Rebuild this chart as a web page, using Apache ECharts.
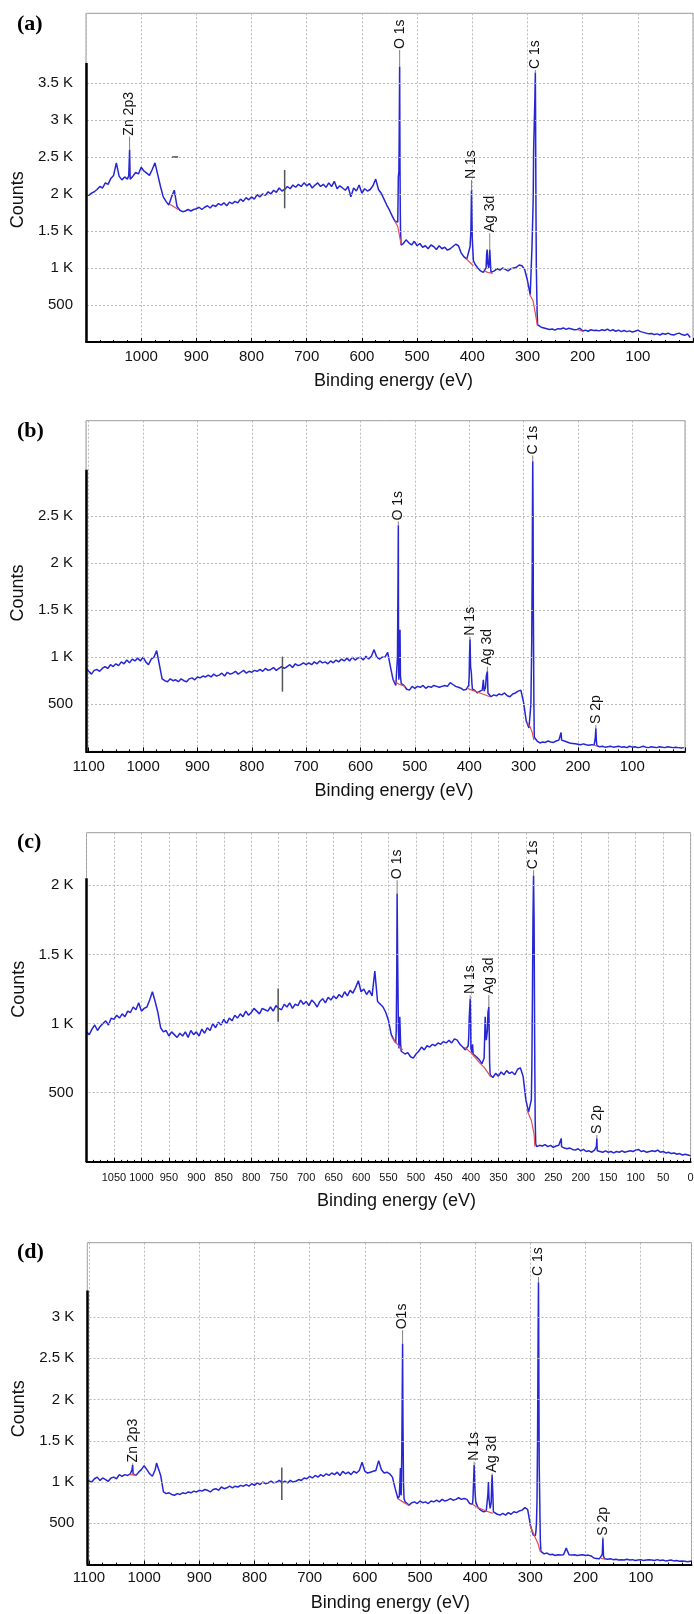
<!DOCTYPE html>
<html><head><meta charset="utf-8">
<script src="https://cdn.jsdelivr.net/npm/echarts@6.0.0/dist/echarts.min.js"></script>
<style>html,body{margin:0;padding:0;background:#fff}#c{width:694px;height:1614px}</style>
</head><body><div id="c"></div>
<script>
// ---------- DATA (energies in eV, counts) ----------
const STEP = 5;
// panel (a): counts sampled every 5 eV from 1100 down to 5
const aStart = 1100;
const aCounts = [
2000,1980,2010,2030,2060,2100,2080,2150,2130,2210,
2250,2420,2240,2190,2230,2200,2200,2240,2290,2270,
2360,2310,2280,2250,2330,2420,2260,2100,1960,1900,
1850,1960,2050,1830,1780,1760,1770,1790,1770,1790,
1800,1820,1790,1820,1840,1810,1850,1830,1870,1850,
1880,1840,1890,1870,1900,1880,1930,1900,1950,1920,
1960,1930,1990,1960,2000,1980,2030,2000,2050,2020,
2080,2040,2060,2100,2070,2120,2090,2130,2100,2150,
2110,2140,2080,2120,2150,2100,2130,2090,2150,2100,
2170,2070,2110,2080,2050,2100,1960,2080,2040,2120,
2010,2070,2040,2060,2110,2200,2060,2010,1930,1850,
1780,1700,1630,1620,1500,1330,1380,1340,1310,1360,
1300,1330,1280,1300,1260,1310,1290,1250,1300,1260,
1280,1240,1260,1290,1320,1300,1200,1150,1120,1260,
1400,1050,1000,960,940,1000,1000,930,960,990,
970,1000,980,960,990,1000,1010,1040,1030,980,
830,640,1800,2500,220,200,190,180,170,175,
160,180,175,190,170,185,175,165,170,185,
150,160,145,165,155,160,150,165,155,175,
150,165,145,160,140,155,140,150,135,145,
160,140,130,120,110,115,100,110,95,115,
105,120,100,95,110,120,100,90,110,60];
const aPeaks = [[1022.5,2250],[1021,2600],[1019.5,2220],
[534,2230],[533,2300],[532.5,2700],[531.6,3720],[531,2400],[530.5,1800],[529,1310],
[404,1290],[402.5,1500],[401.4,2050],[400.5,1600],[398,1100],
[374,1180],[373,1250],[372,1060],[369,1150],[368.3,1250],[367,1050],[366,940],
[293,650],[291.9,1260],[289.5,2000],[288.8,2600],[287.5,3000],[286.5,3300],[285.7,3640],[285.3,3100],[284.5,1700],[283.9,1000],[282.5,400],[281.6,230]];
const aBackground = [[[948,1860],[933,1790]],[[541,1640],[535,1560],[529,1320]],[[412,1130],[405,1080],[398,1030]],[[378,960],[372,940],[363,925]],[[296,640],[290,560],[286,400],[282,225]],[[208,165],[198,140]]];
const aMarks = [[1021,2600,1021,2774,'Zn 2p3'],[531.6,3720,531.6,3945,'O 1s'],[401.4,2050,401.4,2189,'N 1s'],[368.3,1250,368.3,1469,'Ag 3d'],[285.7,3640,285.7,3675,'C 1s'],[740,1806,740,2324,''],[944,2500,933,2500,'']];
const aXTicks = [1000,900,800,700,600,500,400,300,200,100];
const aYTicks = [500,1000,1500,2000,2500,3000,3500];

// panel (b)
const bStart = 1100;
const bCounts = [
850,820,860,870,850,880,900,880,920,900,
930,910,950,930,970,940,980,960,990,960,
1000,950,920,980,1000,1070,920,770,750,740,
770,750,760,740,770,750,740,770,780,760,
790,780,800,790,810,790,820,800,810,830,
800,840,820,830,850,820,840,860,830,850,
840,860,850,870,850,880,860,870,890,860,
880,900,880,900,920,890,930,910,920,940,
920,940,920,950,930,960,940,950,930,960,
940,970,950,980,960,990,960,1000,970,990,
1000,970,1010,980,1010,1080,1000,980,1000,1000,
1050,900,760,700,1000,720,700,660,650,690,
670,690,680,700,670,690,680,700,690,680,
690,700,690,730,710,690,680,670,650,660,
800,720,650,620,640,700,680,600,580,600,
590,610,600,620,590,580,610,620,640,650,
520,320,250,1150,130,110,90,100,95,110,
100,95,110,120,120,110,100,90,85,80,
75,70,80,70,65,70,70,60,50,55,
45,50,55,45,50,55,45,50,40,55,
45,50,40,45,55,45,40,50,45,40,
50,45,40,50,45,40,45,40,35,40];
const bPeaks = [[1105,880],
[533,720],[532,1000],[531,1800],[530.4,2400],[529.5,760],[528.5,750],[527.8,1000],[527.3,1290],[526.5,800],
[401,700],[399.5,1000],[398.5,1190],[397.5,900],[396,830],[394,660],
[376,650],[374,760],[372.5,640],[368.5,800],[366.6,850],[365.5,620],
[293,300],[288,230],[286.5,500],[284,2000],[283.5,2700],[283.1,3080],[282.5,2500],[282,1500],[281,500],[280.3,150],
[231,200],[168,150],[167,245],[166,110]];
const bBackground = [[[539,750],[530,715],[518,690]],[[404,670],[395,650],[380,620],[362,580]],[[294,315],[288,260],[284,200],[281,121]],[[172,70],[164,55]]];
const bMarks = [[530.4,2400,530.4,2440,'O 1s'],[283.1,3080,283.1,3140,'C 1s'],[398.5,1190,398.5,1218,'N 1s'],[366.6,850,366.6,900,'Ag 3d'],[167,245,167,280,'S 2p'],[743.6,634,743.6,1006,'']];
const bXTicks = [1100,1000,900,800,700,600,500,400,300,200,100];
const bYTicks = [500,1000,1500,2000,2500];

// panel (c)
const cStart = 1100;
const cCounts = [
940,920,960,990,950,980,1000,1020,990,1040,
1030,1060,1040,1070,1050,1090,1080,1120,1100,1150,
1090,1110,1120,1170,1230,1160,1080,970,940,950,
910,940,920,900,930,910,940,900,950,920,
940,910,960,930,970,950,1000,970,1010,990,
1030,1000,1040,1020,1060,1040,1070,1050,1090,1060,
1080,1110,1090,1070,1110,1100,1090,1120,1090,1130,
1110,1100,1140,1120,1150,1110,1140,1130,1170,1140,
1160,1130,1170,1150,1120,1160,1180,1150,1190,1170,
1200,1180,1210,1190,1230,1200,1240,1220,1260,1310,
1230,1250,1210,1240,1200,1380,1160,1140,1120,1080,
1020,920,880,1400,900,800,780,790,760,750,
780,800,830,810,840,830,850,840,860,850,
870,860,880,860,890,880,850,830,810,840,
820,770,760,740,710,900,950,630,610,640,
620,650,630,660,640,650,630,670,680,620,
450,360,450,1750,110,120,115,125,110,120,
105,115,120,110,100,95,100,90,85,95,
80,90,75,80,70,85,80,75,70,80,
70,75,65,75,70,80,70,75,80,75,
85,90,75,80,70,75,80,75,85,70,
75,65,70,60,65,55,60,50,55,50,
45];
const cPeaks = [[537,860],[536,950],[534.4,1940],[533.5,1500],[532,950],[531,820],[529.5,1050],[528,850],[527,800],
[404,900],[403,1050],[401.3,1180],[400.5,1000],[398,790],[397,850],[396,780],
[376,750],[374,1050],[373,950],[372,880],[369,1080],[367.4,1120],[366.5,900],[366,720],
[292,350],[289,700],[288,1200],[287,1750],[286,2070],[284,900],[283,300],[282,130],
[235.5,170],[171.5,110],[170.7,170]];
const cBackground = [[[544,900],[534,850],[524,810]],[[412,830],[400,790],[385,720],[375,680],[364,615]],[[298,375],[290,300],[285,200],[283.5,110]]];
const cMarks = [[534.4,1940,534.4,2037,'O 1s'],[285.9,2070,285.9,2109,'C 1s'],[401.3,1180,401.3,1206,'N 1s'],[367.4,1120,367.4,1206,'Ag 3d'],[170.7,170,170.7,194,'S 2p'],[751,1013,751,1254,'']];
const cXTicks = [1050,1000,950,900,850,800,750,700,650,600,550,500,450,400,350,300,250,200,150,100,50,0];
const cYTicks = [500,1000,1500,2000];

// panel (d)
const dStart = 1100;
const dCounts = [
1030,1000,1040,1060,1020,1050,1030,1010,1050,1060,
1040,1090,1070,1090,1080,1100,1100,1080,1120,1150,
1200,1150,1100,1070,1150,1180,1080,880,860,870,
850,840,860,850,870,860,880,870,890,880,
900,890,910,900,880,910,920,900,940,920,
930,950,930,950,940,960,950,970,950,980,
960,990,970,1000,980,990,1010,990,1000,1020,
990,1010,990,1020,1000,1010,1030,1020,1050,1040,
1070,1050,1080,1060,1090,1070,1100,1080,1110,1090,
1120,1080,1130,1100,1120,1090,1130,1110,1140,1240,
1130,1110,1120,1130,1140,1260,1150,1110,1120,1100,
1060,920,800,880,1000,740,720,750,760,740,
770,750,760,740,770,760,780,760,790,770,
780,800,780,790,810,790,800,790,740,730,
850,690,660,640,650,800,1000,620,610,600,
620,600,630,610,640,630,650,660,690,670,
480,360,400,3000,140,130,140,120,125,110,
120,115,120,200,120,115,120,110,115,120,
110,115,105,80,75,70,120,70,65,70,
60,65,55,60,55,65,55,60,50,55,
60,50,55,60,55,50,60,50,55,45,
50,55,45,50,40,45,40,35,40];
const dPeaks = [[1103,1020],[1022,1150],[1020.8,1210],[977.5,1230],
[537.5,830],[535.5,1170],[534,840],[533,1400],[532.3,2000],[531.6,2680],[531,1800],[529,800],[527,760],
[404,800],[403,1000],[401.9,1205],[401,1000],[399,760],[397,740],
[378,660],[377,850],[376,1000],[373,680],[371,750],[369.3,1084],[368,850],[367,640],
[293,340],[291,350],[289,500],[288,760],[287,1500],[286,2800],[285.3,3420],[284.6,2200],[284,1200],[283,760],[282,300],[281,160],
[234.5,220],[169.5,150],[168.6,318],[167.5,100],[8,40]];
const dBackground = [[[1026,1090],[1013,1080]],[[541,800],[531,760],[521,720]],[[405,730],[395,690],[380,650],[368,620]],[[301,480],[292,340],[286,250],[282,156]],[[172,75],[164,65]]];
const dMarks = [[1020.8,1210,1020.8,1226,'Zn 2p3'],[531.6,2680,531.6,2839,'O1s'],[401.9,1205,401.9,1245,'N 1s'],[369.3,1084,369.3,1105,'Ag 3d'],[285.3,3420,285.3,3484,'C 1s'],[168.6,318,168.6,338,'S 2p'],[750.5,782,750.5,1177,'']];
const dXTicks = [1100,1000,900,800,700,600,500,400,300,200,100];
const dYTicks = [500,1000,1500,2000,2500,3000];

// ---------- LAYOUT ----------
const panels = [
 {letter:'(a)', start:aStart, counts:aCounts, peaks:aPeaks, bg:aBackground, marks:aMarks, xTicks:aXTicks, yTicks:aYTicks,
  left:86, top:13.3, width:607, height:328.7, xMin:0, xMax:1100, xInt:100, yMax:4440, axisTop:3770,
  xFont:15, xMargin:7, gapX:30, shiftX:4, gapY:56, shiftY:22, letterY:25},
 {letter:'(b)', start:bStart, counts:bCounts, peaks:bPeaks, bg:bBackground, marks:bMarks, xTicks:bXTicks, yTicks:bYTicks,
  left:86, top:420.7, width:599, height:330.7, xMin:3, xMax:1105, xInt:100, yMax:3510, axisTop:2990,
  xFont:15, xMargin:8, gapX:31, shiftX:8.5, gapY:58.5, shiftY:7, letterY:432.7},
 {letter:'(c)', start:cStart, counts:cCounts, peaks:cPeaks, bg:cBackground, marks:cMarks, xTicks:cXTicks, yTicks:cYTicks,
  left:86.5, top:832.7, width:604.1, height:329.2, xMin:0, xMax:1100, xInt:50, yMax:2380, axisTop:2050,
  xFont:11, xMargin:11, gapX:30, shiftX:8, gapY:51, shiftY:-8, letterY:843},
 {letter:'(d)', start:dStart, counts:dCounts, peaks:dPeaks, bg:dBackground, marks:dMarks, xTicks:dXTicks, yTicks:dYTicks,
  left:87.3, top:1242.7, width:604.2, height:321.9, xMin:8, xMax:1103, xInt:100, yMax:3900, axisTop:3320,
  xFont:15, xMargin:6, gapX:29.5, shiftX:1, gapY:57.5, shiftY:5, letterY:1253}
];

const FONT = 'Liberation Sans';
function buildLine(p) {
  const pts = p.counts.map((c, i) => [p.start - i * STEP, c]).concat(p.peaks);
  pts.sort((u, v) => v[0] - u[0]);
  return pts;
}
function buildBg(p) {
  const out = [];
  p.bg.forEach((seg, k) => { if (k) out.push([seg[0][0] + 0.01, '-']); seg.forEach(pt => out.push(pt)); });
  return out;
}
function fmtY(v) { return v >= 1000 ? (v / 1000) + ' K' : String(v); }

const grid = [], xAxis = [], yAxis = [], series = [], graphic = [];
panels.forEach((p, i) => {
  grid.push({left:p.left, top:p.top, width:p.width, height:p.height, show:true, borderColor:'#9a9a9a', borderWidth:1,
             backgroundColor:'transparent', containLabel:false, outerBoundsMode:'none'});
  xAxis.push({type:'value', gridIndex:i, inverse:true, min:p.xMin, max:p.xMax, minInterval:p.xInt, maxInterval:p.xInt,
    name:'Binding energy (eV)', nameLocation:'middle', nameGap:p.gapX,
    nameTextStyle:{fontFamily:FONT, fontSize:18, color:'#111', padding:[0,0,0,2*p.shiftX]},
    axisLine:{show:true, onZero:false, lineStyle:{color:'#000', width:2}},
    axisTick:{show:true, inside:true, length:4, lineStyle:{color:'#000'}},
    minorTick:{show:true, splitNumber:4, length:2, lineStyle:{color:'#000'}},
    splitLine:{show:true, lineStyle:{color:'#b9b9b9', type:[2,2], width:1}},
    axisLabel:{show:true, fontFamily:FONT, fontSize:p.xFont, color:'#111', margin:p.xMargin,
      showMinLabel:true, showMaxLabel:true,
      formatter: v => (p.xTicks.indexOf(Math.round(v*1000)/1000) >= 0 ? String(v) : '')}
  });
  yAxis.push({type:'value', gridIndex:i, min:0, max:p.yMax, interval:500,
    name:'Counts', nameLocation:'middle', nameGap:p.gapY,
    nameTextStyle:{fontFamily:FONT, fontSize:18, color:'#111',
      padding: p.shiftY >= 0 ? [0, 2*p.shiftY, 0, 0] : [0, 0, 0, -2*p.shiftY]},
    axisLine:{show:false}, axisTick:{show:false}, splitLine:{show:false},
    axisLabel:{show:true, fontFamily:FONT, fontSize:15, color:'#111', margin:13,
      formatter: v => (p.yTicks.indexOf(v) >= 0 ? fmtY(v) : '')}
  });
  const thick = {color:'#000', width:2.5, type:'solid'};
  series.push({type:'line', xAxisIndex:i, yAxisIndex:i, data:[], silent:true, z:1, animation:false,
    markLine:{silent:true, symbol:['none','none'], animation:false, label:{show:false},
      lineStyle:{color:'#b9b9b9', type:[2,2], width:1},
      data: p.yTicks.map(v => ({yAxis:v})).concat([[{coord:[p.xMax,0], lineStyle:thick},{coord:[p.xMax,p.axisTop], lineStyle:thick}]])}
  });
  series.push({type:'line', xAxisIndex:i, yAxisIndex:i, data:buildLine(p), showSymbol:false, symbol:'none',
    lineStyle:{color:'#2626d6', width:1.5}, z:3, animation:false, sampling:null});
  series.push({type:'line', xAxisIndex:i, yAxisIndex:i, data:buildBg(p), showSymbol:false, symbol:'none', connectNulls:false,
    lineStyle:{color:'#e0505a', width:1.2}, z:4, animation:false});
  const marks = p.marks;
  series.push({type:'custom', xAxisIndex:i, yAxisIndex:i, z:5, animation:false, clip:false,
    data: marks.map(m => [m[0], m[1], m[2], m[3]]),
    encode:{x:[0,2], y:[1,3]},
    renderItem: function (params, api) {
      const m = marks[params.dataIndex];
      const p1 = api.coord([m[0], m[1]]);
      const p2 = api.coord([m[2], m[3]]);
      const children = [{type:'line', shape:{x1:p1[0], y1:p1[1], x2:p2[0], y2:p2[1]},
        style:{stroke: m[4] ? '#808080' : '#555', lineWidth: m[4] ? 1 : 1.5}}];
      if (m[4]) {
        children.push({type:'text', x:p2[0], y:p2[1] - 1, rotation:Math.PI / 2,
          style:{text:m[4], fill:'#111', fontFamily:FONT, fontSize:14, align:'left', verticalAlign:'middle'}});
      }
      return {type:'group', children:children};
    }
  });
  graphic.push({type:'text', left:17, top:p.letterY - 12,
    style:{text:p.letter, fill:'#000', font:'bold 22px "Liberation Serif"'}});
});

const chart = echarts.init(document.getElementById('c'), null, {renderer:'canvas', width:694, height:1614});
chart.setOption({animation:false, backgroundColor:'#fff', textStyle:{fontFamily:FONT},
  grid, xAxis, yAxis, series, graphic});
</script></body></html>
